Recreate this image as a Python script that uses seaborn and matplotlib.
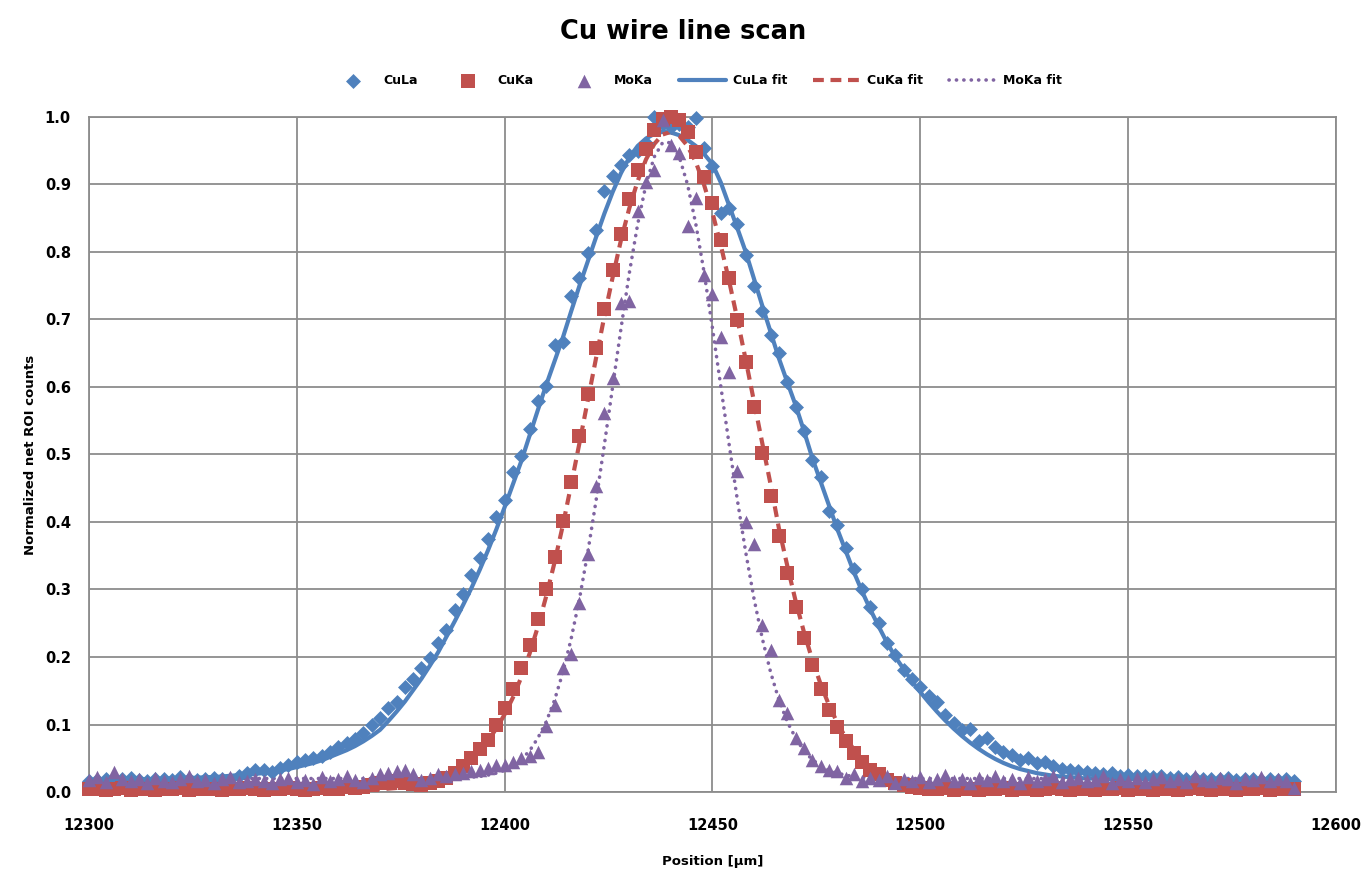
import matplotlib
matplotlib.use("Agg")
import matplotlib.pyplot as plt
import seaborn as sns

# scan positions (um), one reading every 2 um
position = list(range(12300, 12591, 2))

# normalized net ROI counts
cula = [
    0.016, 0.018, 0.020, 0.017, 0.019, 0.021, 0.018, 0.017, 0.019, 0.020,
    0.018, 0.022, 0.019, 0.018, 0.020, 0.021, 0.019, 0.020, 0.024, 0.028,
    0.032, 0.033, 0.030, 0.036, 0.040, 0.044, 0.047, 0.050, 0.054, 0.060,
    0.066, 0.072, 0.078, 0.088, 0.100, 0.110, 0.125, 0.134, 0.155, 0.168,
    0.183, 0.198, 0.221, 0.240, 0.269, 0.293, 0.321, 0.346, 0.375, 0.407,
    0.433, 0.474, 0.498, 0.538, 0.579, 0.601, 0.662, 0.667, 0.735, 0.762,
    0.799, 0.833, 0.890, 0.913, 0.929, 0.944, 0.950, 0.962, 1.000, 0.990,
    0.985, 0.990, 0.985, 0.998, 0.954, 0.927, 0.858, 0.865, 0.841, 0.796,
    0.750, 0.713, 0.677, 0.651, 0.608, 0.571, 0.535, 0.492, 0.466, 0.417,
    0.395, 0.361, 0.331, 0.301, 0.274, 0.250, 0.221, 0.203, 0.181, 0.168,
    0.156, 0.142, 0.133, 0.114, 0.102, 0.092, 0.093, 0.075, 0.080, 0.067,
    0.060, 0.055, 0.048, 0.050, 0.043, 0.045, 0.038, 0.034, 0.032, 0.031,
    0.029, 0.028, 0.026, 0.028, 0.024, 0.025, 0.023, 0.024, 0.022, 0.023,
    0.021, 0.022, 0.020, 0.021, 0.019, 0.020, 0.019, 0.021, 0.018, 0.019,
    0.020, 0.018, 0.019, 0.018, 0.019, 0.016,
]
cuka = [
    0.004, 0.005, 0.003, 0.004, 0.006, 0.003, 0.005, 0.004, 0.003, 0.005,
    0.004, 0.006, 0.003, 0.004, 0.005, 0.004, 0.003, 0.005, 0.004, 0.006,
    0.004, 0.003, 0.005, 0.004, 0.006, 0.005, 0.003, 0.004, 0.006, 0.005,
    0.004, 0.007, 0.006, 0.008, 0.010, 0.013, 0.015, 0.016, 0.014, 0.012,
    0.011, 0.013, 0.016, 0.021, 0.028, 0.038, 0.050, 0.063, 0.077, 0.100,
    0.124, 0.152, 0.183, 0.218, 0.257, 0.300, 0.348, 0.401, 0.459, 0.527,
    0.590, 0.658, 0.715, 0.774, 0.826, 0.879, 0.921, 0.953, 0.980, 0.997,
    1.000, 0.995, 0.978, 0.948, 0.911, 0.872, 0.817, 0.761, 0.699, 0.637,
    0.571, 0.502, 0.439, 0.379, 0.325, 0.274, 0.228, 0.188, 0.152, 0.121,
    0.097, 0.075, 0.058, 0.045, 0.033, 0.026, 0.018, 0.013, 0.010, 0.008,
    0.006, 0.005, 0.004, 0.006, 0.003, 0.005, 0.004, 0.003, 0.005, 0.004,
    0.006, 0.003, 0.004, 0.005, 0.003, 0.004, 0.006, 0.004, 0.003, 0.005,
    0.004, 0.003, 0.005, 0.004, 0.006, 0.003, 0.004, 0.005, 0.003, 0.004,
    0.005, 0.003, 0.004, 0.006, 0.004, 0.003, 0.005, 0.004, 0.003, 0.005,
    0.004, 0.006, 0.003, 0.004, 0.005, 0.004,
]
moka = [
    0.018, 0.022, 0.015, 0.030, 0.020, 0.016, 0.019, 0.014, 0.021, 0.017,
    0.015, 0.020, 0.023, 0.016, 0.018, 0.014, 0.019, 0.022, 0.015, 0.017,
    0.020, 0.016, 0.013, 0.019, 0.021, 0.015, 0.018, 0.012, 0.022, 0.016,
    0.019, 0.024, 0.018, 0.015, 0.021, 0.026, 0.028, 0.031, 0.033, 0.026,
    0.018, 0.021, 0.026, 0.023, 0.026, 0.028, 0.031, 0.033, 0.035, 0.040,
    0.040, 0.045, 0.050, 0.053, 0.060, 0.098, 0.129, 0.183, 0.204, 0.280,
    0.353, 0.454, 0.561, 0.613, 0.725, 0.727, 0.860, 0.903, 0.921, 0.995,
    0.959, 0.946, 0.839, 0.880, 0.766, 0.738, 0.674, 0.622, 0.476, 0.400,
    0.368, 0.247, 0.210, 0.137, 0.117, 0.080, 0.065, 0.048, 0.038, 0.033,
    0.031, 0.021, 0.026, 0.016, 0.021, 0.018, 0.024, 0.014, 0.020, 0.017,
    0.022, 0.015, 0.019, 0.025, 0.016, 0.020, 0.013, 0.021, 0.018, 0.023,
    0.016, 0.019, 0.014, 0.022, 0.017, 0.020, 0.024, 0.015, 0.019, 0.021,
    0.016, 0.018, 0.023, 0.014, 0.020, 0.017, 0.021, 0.015, 0.019, 0.022,
    0.017, 0.020, 0.015, 0.024, 0.018, 0.016, 0.021, 0.019, 0.014, 0.020,
    0.018, 0.022, 0.016, 0.019, 0.017, 0.006,
]

# fitted curves, read at the same positions
cula_fit = [
    0.018, 0.018, 0.018, 0.018, 0.018, 0.019, 0.019, 0.019, 0.019, 0.020,
    0.020, 0.020, 0.021, 0.021, 0.022, 0.022, 0.023, 0.024, 0.025, 0.026,
    0.027, 0.028, 0.030, 0.032, 0.034, 0.037, 0.040, 0.043, 0.047, 0.052,
    0.057, 0.062, 0.068, 0.075, 0.083, 0.092, 0.105, 0.119, 0.134, 0.151,
    0.168, 0.187, 0.207, 0.230, 0.253, 0.277, 0.302, 0.329, 0.358, 0.389,
    0.422, 0.456, 0.490, 0.528, 0.566, 0.603, 0.638, 0.673, 0.712, 0.750,
    0.786, 0.822, 0.857, 0.889, 0.917, 0.940, 0.957, 0.968, 0.975, 0.978,
    0.977, 0.973, 0.966, 0.957, 0.945, 0.930, 0.903, 0.869, 0.835, 0.800,
    0.760, 0.720, 0.681, 0.642, 0.607, 0.573, 0.535, 0.495, 0.460, 0.425,
    0.390, 0.358, 0.326, 0.297, 0.270, 0.245, 0.221, 0.200, 0.182, 0.164,
    0.148, 0.133, 0.119, 0.106, 0.094, 0.083, 0.073, 0.064, 0.056, 0.049,
    0.043, 0.038, 0.034, 0.031, 0.028, 0.026, 0.024, 0.023, 0.022, 0.021,
    0.020, 0.020, 0.019, 0.019, 0.019, 0.019, 0.019, 0.019, 0.018, 0.018,
    0.018, 0.018, 0.018, 0.018, 0.018, 0.018, 0.018, 0.018, 0.018, 0.018,
    0.018, 0.018, 0.018, 0.018, 0.018, 0.018,
]
cuka_fit = [
    0.004, 0.004, 0.004, 0.004, 0.004, 0.004, 0.004, 0.004, 0.004, 0.004,
    0.004, 0.004, 0.004, 0.004, 0.004, 0.004, 0.004, 0.004, 0.004, 0.004,
    0.004, 0.004, 0.004, 0.004, 0.004, 0.004, 0.004, 0.004, 0.004, 0.004,
    0.004, 0.004, 0.004, 0.004, 0.004, 0.004, 0.005, 0.006, 0.007, 0.009,
    0.011, 0.014, 0.018, 0.023, 0.030, 0.038, 0.048, 0.061, 0.076, 0.094,
    0.115, 0.140, 0.170, 0.205, 0.245, 0.290, 0.340, 0.395, 0.455, 0.517,
    0.580, 0.643, 0.705, 0.763, 0.818, 0.865, 0.905, 0.937, 0.960, 0.974,
    0.978, 0.972, 0.957, 0.933, 0.899, 0.858, 0.810, 0.757, 0.700, 0.640,
    0.578, 0.516, 0.455, 0.390, 0.335, 0.283, 0.237, 0.196, 0.160, 0.129,
    0.103, 0.081, 0.063, 0.048, 0.037, 0.028, 0.022, 0.016, 0.012, 0.009,
    0.007, 0.006, 0.005, 0.004, 0.004, 0.004, 0.004, 0.004, 0.004, 0.004,
    0.004, 0.004, 0.004, 0.004, 0.004, 0.004, 0.004, 0.004, 0.004, 0.004,
    0.004, 0.004, 0.004, 0.004, 0.004, 0.004, 0.004, 0.004, 0.004, 0.004,
    0.004, 0.004, 0.004, 0.004, 0.004, 0.004, 0.004, 0.004, 0.004, 0.004,
    0.004, 0.004, 0.004, 0.004, 0.004, 0.004,
]
moka_fit = [
    0.020, 0.020, 0.020, 0.020, 0.020, 0.020, 0.020, 0.020, 0.020, 0.020,
    0.020, 0.020, 0.020, 0.020, 0.020, 0.020, 0.020, 0.020, 0.020, 0.020,
    0.020, 0.020, 0.020, 0.020, 0.020, 0.020, 0.020, 0.020, 0.020, 0.020,
    0.020, 0.020, 0.020, 0.020, 0.020, 0.020, 0.020, 0.020, 0.020, 0.020,
    0.020, 0.020, 0.020, 0.020, 0.020, 0.021, 0.022, 0.023, 0.025, 0.028,
    0.032, 0.039, 0.048, 0.061, 0.080, 0.104, 0.136, 0.177, 0.227, 0.286,
    0.355, 0.432, 0.515, 0.601, 0.687, 0.769, 0.841, 0.900, 0.941, 0.962,
    0.962, 0.941, 0.900, 0.841, 0.769, 0.687, 0.601, 0.515, 0.432, 0.355,
    0.286, 0.227, 0.177, 0.136, 0.104, 0.080, 0.061, 0.048, 0.039, 0.032,
    0.028, 0.025, 0.023, 0.022, 0.021, 0.020, 0.020, 0.020, 0.020, 0.020,
    0.020, 0.020, 0.020, 0.020, 0.020, 0.020, 0.020, 0.020, 0.020, 0.020,
    0.020, 0.020, 0.020, 0.020, 0.020, 0.020, 0.020, 0.020, 0.020, 0.020,
    0.020, 0.020, 0.020, 0.020, 0.020, 0.020, 0.020, 0.020, 0.020, 0.020,
    0.020, 0.020, 0.020, 0.020, 0.020, 0.020, 0.020, 0.020, 0.020, 0.020,
    0.020, 0.020, 0.020, 0.020, 0.020, 0.020,
]

x_ticks = [12300, 12350, 12400, 12450, 12500, 12550, 12600]
y_ticks = [0.0, 0.1, 0.2, 0.3, 0.4, 0.5, 0.6, 0.7, 0.8, 0.9, 1.0]

for name, s in [("cula", cula), ("cuka", cuka), ("moka", moka),
                ("cula_fit", cula_fit), ("cuka_fit", cuka_fit), ("moka_fit", moka_fit)]:
    assert len(s) == len(position), (name, len(s))

BLUE = "#4F81BD"
RED = "#C0504D"
PURPLE = "#8064A2"
GRID = "#8c8c8c"

sns.set_style("white")
plt.rcParams["font.family"] = ["DejaVu Sans"]
plt.rcParams["font.weight"] = "bold"
plt.rcParams["text.color"] = "black"
plt.rcParams["axes.labelcolor"] = "black"

fig = plt.figure(figsize=(13.64, 8.69), dpi=100)
ax = fig.add_axes([0.0652, 0.0886, 0.9143, 0.7768])

# fit lines first, markers are drawn on top of them
sns.lineplot(x=position, y=cula_fit, ax=ax, color=BLUE, lw=3.0,
             sort=False, estimator=None, label="CuLa fit", zorder=2)
sns.lineplot(x=position, y=cuka_fit, ax=ax, color=RED, lw=3.0,
             linestyle=(0, (2.6, 1.6)), sort=False, estimator=None,
             label="CuKa fit", zorder=2)
sns.lineplot(x=position, y=moka_fit, ax=ax, color=PURPLE, lw=2.6,
             linestyle=(0, (0.05, 2.0)), dash_capstyle="round",
             sort=False, estimator=None, label="MoKa fit", zorder=2)

sns.scatterplot(x=position, y=cula, ax=ax, marker="D", s=58, color=BLUE,
                linewidth=0, label="CuLa", zorder=3, clip_on=False)
sns.scatterplot(x=position, y=cuka, ax=ax, marker="s", s=100, color=RED,
                linewidth=0, label="CuKa", zorder=4, clip_on=False)
sns.scatterplot(x=position, y=moka, ax=ax, marker="^", s=95, color=PURPLE,
                linewidth=0, label="MoKa", zorder=5, clip_on=False)

ax.set_xlim(12300, 12600)
ax.set_ylim(0, 1.0)
ax.set_xticks(x_ticks)
ax.set_yticks(y_ticks)
ax.set_yticklabels([f"{v:.1f}" for v in y_ticks])
ax.grid(True, color=GRID, lw=1.3)
ax.set_axisbelow(True)
for side in ax.spines.values():
    side.set_color(GRID)
    side.set_linewidth(1.3)
ax.tick_params(axis="both", direction="out", length=5, width=1.3, color=GRID,
               labelsize=10.5, labelcolor="black")
ax.tick_params(axis="x", pad=14)
ax.tick_params(axis="y", pad=8)
for lab in ax.get_xticklabels() + ax.get_yticklabels():
    lab.set_fontweight("bold")

ax.set_xlabel("Position [µm]", fontsize=9.5, fontweight="bold")
ax.xaxis.set_label_coords(0.5, -0.093)
ax.set_ylabel("Normalized net ROI counts", fontsize=9.5, fontweight="bold")
ax.yaxis.set_label_coords(-0.042, 0.5)

fig.text(0.5007, 0.963, "Cu wire line scan", ha="center", va="center",
         fontsize=18.5, fontweight="bold", color="black")

handles, labels = ax.get_legend_handles_labels()
ax.get_legend().remove()
order = ["CuLa", "CuKa", "MoKa", "CuLa fit", "CuKa fit", "MoKa fit"]
lookup = dict(zip(labels, handles))
fig.legend([lookup[k] for k in order], order, loc="center",
           bbox_to_anchor=(0.51, 0.907), ncol=6, frameon=False,
           prop={"size": 9, "weight": "bold"}, handlelength=3.8,
           handletextpad=0.5, columnspacing=2.1, scatterpoints=1)

fig.savefig("out.png", dpi=100)
